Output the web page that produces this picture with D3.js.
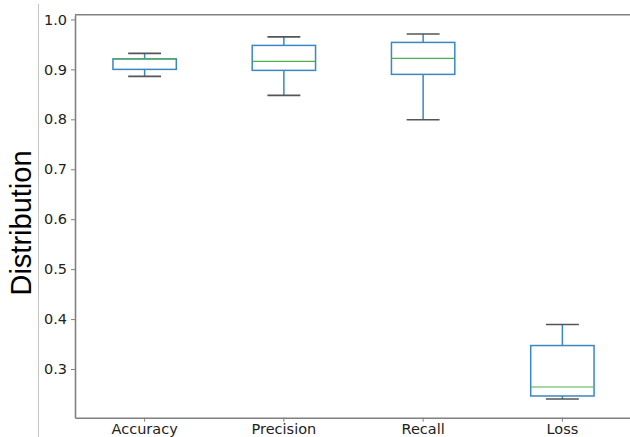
<!DOCTYPE html>
<html>
<head>
<meta charset="utf-8">
<script src="https://cdn.jsdelivr.net/npm/d3@7"></script>
<style>
  body { margin: 0; background: #fff; }
  svg { display: block; }
</style>
</head>
<body>
<svg id="chart" width="630" height="437"></svg>
<script>
// Box statistics
let categories = ["Accuracy", "Precision", "Recall", "Loss"];
let lowCaps   = [0.886, 0.848, 0.799, 0.240];
let q1s       = [0.900, 0.898, 0.890, 0.246];
let medians   = [0.921, 0.916, 0.922, 0.264];
let q3s       = [0.921, 0.948, 0.954, 0.347];
let highCaps  = [0.932, 0.965, 0.971, 0.389];
let yTicks    = [0.3, 0.4, 0.5, 0.6, 0.7, 0.8, 0.9, 1.0];

let boxes = categories.map((c, i) => ({
    name: c, lo: lowCaps[i], q1: q1s[i], med: medians[i], q3: q3s[i], hi: highCaps[i]
}));

let margin = {left: 75, top: 14.7, right: -2, bottom: 19.3};
let width = 630 - margin.left - margin.right;
let height = 437 - margin.top - margin.bottom;

let svg = d3.select("#chart");

// thin grey line left of the plot
svg.append("line")
    .attr("x1", 38.5).attr("x2", 38.5)
    .attr("y1", 4).attr("y2", 437)
    .attr("stroke", "#c4c4c4").attr("stroke-width", 1);

let g = svg.append("g").attr("transform", `translate(${margin.left},${margin.top})`);

let x = d3.scaleBand().domain(categories).range([0, width]).padding(0);
let y = d3.scaleLinear().domain([0.2025, 1.0095]).range([height, 0]);

let boxW = x.bandwidth() * 0.455;
let capW = boxW * 0.52;

// axes
let yAxis = d3.axisLeft(y).tickValues(yTicks).tickFormat(d3.format(".1f"))
    .tickSizeInner(4).tickSizeOuter(0).tickPadding(4);
let xAxis = d3.axisBottom(x).tickSizeInner(4).tickSizeOuter(0).tickPadding(2);

let ya = g.append("g").call(yAxis);
let xa = g.append("g").attr("transform", `translate(0,${height})`).call(xAxis);

[ya, xa].forEach(a => {
    a.selectAll(".domain").attr("stroke", "#808080").attr("stroke-width", 1.6);
    a.selectAll(".tick line").attr("stroke", "#808080").attr("stroke-width", 1);
    a.selectAll(".tick text")
        .attr("fill", "#222")
        .style("font-family", "'DejaVu Sans', sans-serif")
        .style("font-size", "14.5px");
});
// top spine
g.append("line")
    .attr("x1", 0).attr("x2", width)
    .attr("y1", 0).attr("y2", 0)
    .attr("stroke", "#808080").attr("stroke-width", 1.6);

// y label
svg.append("text")
    .attr("transform", "translate(31,223) rotate(-90)")
    .attr("text-anchor", "middle")
    .style("font-family", "'Liberation Sans', Arial, sans-serif")
    .style("font-size", "29px")
    .attr("fill", "#000")
    .text("Distribution");

// boxes
let bg = g.selectAll(".box").data(boxes).enter().append("g")
    .attr("class", "box")
    .attr("transform", d => `translate(${x(d.name) + x.bandwidth() / 2},0)`);

let blue = "#3a87c2";

// whiskers
bg.append("line")
    .attr("x1", 0).attr("x2", 0)
    .attr("y1", d => y(d.q3)).attr("y2", d => y(d.hi))
    .attr("stroke", blue).attr("stroke-width", 1.5);
bg.append("line")
    .attr("x1", 0).attr("x2", 0)
    .attr("y1", d => y(d.q1)).attr("y2", d => y(d.lo))
    .attr("stroke", blue).attr("stroke-width", 1.5);

// caps
bg.selectAll(".cap").data(d => [d.lo, d.hi]).enter().append("line")
    .attr("class", "cap")
    .attr("x1", -capW / 2).attr("x2", capW / 2)
    .attr("y1", v => y(v)).attr("y2", v => y(v))
    .attr("stroke", "#555").attr("stroke-width", 1.6);

// box rect
bg.append("rect")
    .attr("x", -boxW / 2)
    .attr("y", d => y(d.q3))
    .attr("width", boxW)
    .attr("height", d => y(d.q1) - y(d.q3))
    .attr("fill", "none")
    .attr("stroke", blue).attr("stroke-width", 1.5);

// median
bg.append("line")
    .attr("x1", -boxW / 2).attr("x2", boxW / 2)
    .attr("y1", d => y(d.med)).attr("y2", d => y(d.med))
    .attr("stroke", "#4caf50").attr("stroke-width", 1.2);
</script>
</body>
</html>
